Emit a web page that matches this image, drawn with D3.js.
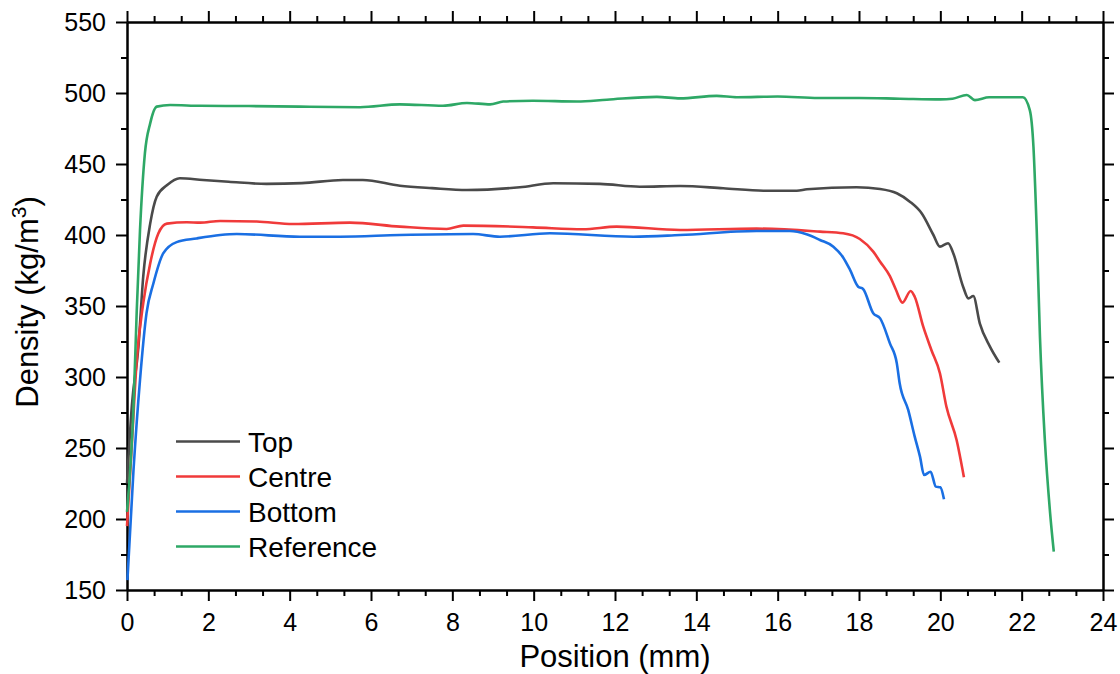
<!DOCTYPE html>
<html>
<head>
<meta charset="utf-8">
<script src="https://cdn.jsdelivr.net/npm/d3@7"></script>
<style>
  body { margin: 0; background: #fff; }
  svg text { font-family: "Liberation Sans", Arial, sans-serif; fill: #000; }
</style>
</head>
<body>
<div id="chart"></div>
<script>
// Density profiles: [position mm, density kg/m3]
var topData = [[0,225],[0.12,280],[0.28,321],[0.40,371],[0.57,408],[0.73,427],[0.98,435],[1.30,440],[1.87,438.7],[2.5,437.5],[3.43,436],[4.3,436.5],[5.31,438.7],[5.8,438.7],[6.71,434.7],[7.5,433],[8.36,431.7],[9.66,433.6],[10.48,436.4],[11.63,436],[12.61,434],[13.6,434.5],[14.66,432.9],[15.65,431.2],[16.47,431.2],[16.72,432.2],[17.94,433.6],[18.52,432.4],[18.93,429.4],[19.25,423.5],[19.54,415.3],[19.83,400],[19.99,391.8],[20.19,394.2],[20.32,387],[20.56,363.6],[20.69,355.4],[20.81,357],[20.97,337.8],[21.22,321.4],[21.45,310.1]];
var centreData = [[0,195],[0.12,253],[0.24,312],[0.40,352],[0.57,380],[0.77,401],[0.98,408],[1.47,409],[1.8,408.7],[2.29,409.9],[3.19,409.5],[4.08,407.7],[5.48,408.7],[6.71,405.9],[7.86,404.2],[8.27,406.6],[9.98,405.4],[11.21,404],[12.04,405.9],[13.6,403.5],[15.48,404.5],[17.04,402.4],[17.61,401.2],[18.02,397.2],[18.35,388.3],[18.52,381.2],[18.76,371],[18.9,362],[19.07,352.4],[19.27,360.6],[19.37,356.5],[19.58,335.4],[19.78,319],[19.99,302.6],[20.15,279],[20.4,255.6],[20.58,229.4]];
var bottomData = [[0.01,157],[0.16,234.5],[0.32,298],[0.48,345],[0.65,366],[0.89,387],[1.22,395],[1.71,397.6],[2.29,400],[2.7,400.7],[4.25,398.8],[5.24,398.8],[6.71,400],[8.51,400.7],[9.17,398.8],[10.4,401.2],[12.45,398.8],[13.6,400],[15.48,402.8],[16.3,402.8],[16.71,400.5],[17.04,396.5],[17.37,391.8],[17.61,384.2],[17.78,375.4],[17.98,363.6],[18.1,362],[18.35,344.9],[18.52,341.3],[18.76,323.7],[18.93,309.6],[19.0,295.6],[19.21,276.8],[19.37,258],[19.5,243.9],[19.6,231],[19.76,233.3],[19.89,222.8],[20.0,222.3],[20.09,213.9]];
var referenceData = [[0,205],[0.16,279],[0.24,347],[0.32,403.5],[0.44,457.5],[0.57,478.6],[0.73,490.4],[1.06,491.5],[1.8,491],[3,490.8],[4.25,490.4],[5.73,490],[6.71,492],[7.77,491],[8.36,493],[8.93,492],[9.25,494],[9.98,494.5],[11.07,494],[11.8,495.3],[13.03,497.3],[13.6,496.2],[14.5,498],[15,497],[16,497.5],[17,496.5],[18,496.5],[19,496],[20,495.5],[20.3,496],[20.65,498.6],[20.85,495],[21.2,497],[22.03,497],[22.2,488],[22.29,462],[22.37,403.5],[22.45,328],[22.57,255.6],[22.7,204],[22.79,177]];

var seriesNames = ["Top", "Centre", "Bottom", "Reference"];
var seriesColors = ["#4a4a4a", "#f03a3a", "#1a6fe3", "#2ea866"];
var seriesData = [topData, centreData, bottomData, referenceData];

var xTicks = d3.range(0, 25, 2);
var yTicks = d3.range(150, 551, 50);

var svgWidth = 1120, svgHeight = 674;
var margin = { top: 22, right: 17, bottom: 84, left: 127 };
var chartWidth = svgWidth - margin.left - margin.right;
var chartHeight = svgHeight - margin.top - margin.bottom;

var svg = d3.select("#chart").append("svg")
    .attr("width", svgWidth)
    .attr("height", svgHeight);

var chartGroup = svg.append("g")
    .attr("transform", `translate(${margin.left}, ${margin.top})`);

var xScale = d3.scaleLinear().domain([0, 24]).range([0, chartWidth]);
var yScale = d3.scaleLinear().domain([150, 550]).range([chartHeight, 0]);

// minor ticks: x every 2/3 mm, y every 25
var xMinor = d3.range(0, 24.01, 2 / 3).filter(function (v) { return Math.abs(v / 2 - Math.round(v / 2)) > 0.01; });
var yMinor = d3.range(175, 550, 50);

function styleAxis(g) {
    g.select(".domain").attr("stroke", "#000").attr("stroke-width", 2);
    g.selectAll(".tick line").attr("stroke", "#000").attr("stroke-width", 2);
    g.selectAll(".tick text").style("font-size", "25px");
}

// bottom axis
chartGroup.append("g")
    .attr("transform", `translate(0, ${chartHeight})`)
    .call(d3.axisBottom(xScale).tickValues(xMinor).tickSize(6).tickFormat("").tickSizeOuter(0))
    .call(styleAxis);
chartGroup.append("g")
    .attr("transform", `translate(0, ${chartHeight})`)
    .call(d3.axisBottom(xScale).tickValues(xTicks).tickSize(11).tickPadding(12).tickSizeOuter(0))
    .call(styleAxis);

// top axis
chartGroup.append("g")
    .call(d3.axisTop(xScale).tickValues(xMinor).tickSize(6).tickFormat("").tickSizeOuter(0))
    .call(styleAxis);
chartGroup.append("g")
    .call(d3.axisTop(xScale).tickValues(xTicks).tickSize(11).tickFormat("").tickSizeOuter(0))
    .call(styleAxis);

// left axis
chartGroup.append("g")
    .call(d3.axisLeft(yScale).tickValues(yMinor).tickSize(6).tickFormat("").tickSizeOuter(0))
    .call(styleAxis);
chartGroup.append("g")
    .call(d3.axisLeft(yScale).tickValues(yTicks).tickSize(11).tickPadding(10).tickSizeOuter(0))
    .call(styleAxis);

// right axis
chartGroup.append("g")
    .attr("transform", `translate(${chartWidth}, 0)`)
    .call(d3.axisRight(yScale).tickValues(yMinor).tickSize(6).tickFormat("").tickSizeOuter(0))
    .call(styleAxis);
chartGroup.append("g")
    .attr("transform", `translate(${chartWidth}, 0)`)
    .call(d3.axisRight(yScale).tickValues(yTicks).tickSize(11).tickFormat("").tickSizeOuter(0))
    .call(styleAxis);

// lines
var line = d3.line()
    .x(function (d) { return xScale(d[0]); })
    .y(function (d) { return yScale(d[1]); })
    .curve(d3.curveMonotoneX);

seriesData.forEach(function (data, i) {
    chartGroup.append("path")
        .datum(data)
        .attr("fill", "none")
        .attr("stroke", seriesColors[i])
        .attr("stroke-width", 2.6)
        .attr("stroke-linejoin", "round")
        .attr("d", line);
});

// legend
var legend = chartGroup.append("g")
    .attr("transform", "translate(49, 419.5)");
seriesNames.forEach(function (name, i) {
    var row = legend.append("g").attr("transform", `translate(0, ${i * 35})`);
    row.append("line")
        .attr("x1", 0).attr("x2", 64)
        .attr("stroke", seriesColors[i])
        .attr("stroke-width", 2.6);
    row.append("text")
        .attr("x", 72)
        .attr("y", 10)
        .style("font-size", "28px")
        .text(name);
});

// axis titles
svg.append("text")
    .attr("x", margin.left + chartWidth / 2)
    .attr("y", 667)
    .attr("text-anchor", "middle")
    .style("font-size", "31px")
    .text("Position (mm)");

var yTitle = svg.append("text")
    .attr("transform", `translate(38, ${margin.top + chartHeight / 2 - 4}) rotate(-90)`)
    .attr("text-anchor", "middle")
    .style("font-size", "31px");
yTitle.append("tspan").text("Density (kg/m");
yTitle.append("tspan").attr("dy", -12).style("font-size", "21px").text("3");
yTitle.append("tspan").attr("dy", 12).text(")");
</script>
</body>
</html>
